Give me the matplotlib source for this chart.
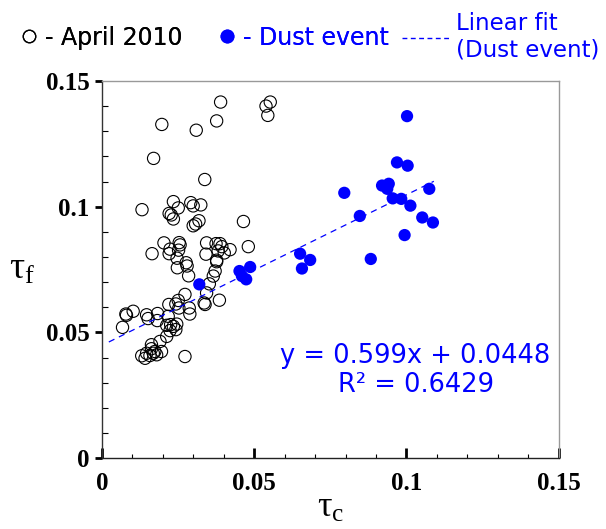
import matplotlib
matplotlib.use("Agg")
import matplotlib.pyplot as plt
import numpy as np
from matplotlib.lines import Line2D
from matplotlib.ticker import MultipleLocator, FixedLocator

# April 2010 (open circles)
april_tc = [
    0.0390, 0.0553, 0.0539, 0.0545, 0.0197, 0.0310, 0.0377, 0.0170, 0.0338,
    0.0132, 0.0235, 0.0251, 0.0221, 0.0228, 0.0235, 0.0292, 0.0300, 0.0300,
    0.0308, 0.0319, 0.0204, 0.0165, 0.0224, 0.0221, 0.0254, 0.0257, 0.0252,
    0.0247, 0.0248, 0.0277, 0.0280, 0.0325, 0.0465, 0.0344, 0.0375, 0.0388,
    0.0394, 0.0421, 0.0382, 0.0342, 0.0402, 0.0481, 0.0377, 0.0285, 0.0273,
    0.0251, 0.0243, 0.0220, 0.0287, 0.0289, 0.0253, 0.0103, 0.0079, 0.0081,
    0.0147, 0.0152, 0.0183, 0.0218, 0.0182, 0.0213, 0.0226, 0.0235, 0.0246,
    0.0243, 0.0224, 0.0213, 0.0068, 0.0163, 0.0191, 0.0174, 0.0163, 0.0169,
    0.0158, 0.0180, 0.0196, 0.0131, 0.0142, 0.0273, 0.0147, 0.0372, 0.0366,
    0.0353, 0.0344, 0.0336, 0.0339, 0.0386, 0.0377,
]
april_tf = [
    0.1416, 0.1416, 0.1400, 0.1363, 0.1327, 0.1304, 0.1341, 0.1192, 0.1108,
    0.0988, 0.1020, 0.0995, 0.0973, 0.0967, 0.0951, 0.1016, 0.1003, 0.0924,
    0.0931, 0.0944, 0.0856, 0.0813, 0.0831, 0.0813, 0.0857, 0.0848, 0.0827,
    0.0795, 0.0757, 0.0777, 0.0764, 0.1007, 0.0941, 0.0856, 0.0853, 0.0853,
    0.0841, 0.0829, 0.0824, 0.0811, 0.0816, 0.0841, 0.0781, 0.0725, 0.0651,
    0.0627, 0.0613, 0.0611, 0.0597, 0.0573, 0.0597, 0.0584, 0.0573, 0.0568,
    0.0570, 0.0555, 0.0575, 0.0564, 0.0547, 0.0528, 0.0531, 0.0524, 0.0533,
    0.0511, 0.0507, 0.0484, 0.0520, 0.0451, 0.0464, 0.0424, 0.0435, 0.0417,
    0.0408, 0.0411, 0.0424, 0.0407, 0.0397, 0.0404, 0.0417, 0.0744, 0.0724,
    0.0693, 0.0657, 0.0617, 0.0611, 0.0628, 0.0787,
]

# Dust event (filled circles)
dust_tc = [
    0.1002, 0.0969, 0.1004, 0.0796, 0.0920, 0.0942, 0.0937, 0.1075, 0.0955,
    0.0983, 0.1013, 0.1052, 0.1087, 0.0847, 0.0994, 0.0883, 0.0320, 0.0452,
    0.0460, 0.0474, 0.0487, 0.0684, 0.0657, 0.0651,
]
dust_tf = [
    0.1360, 0.1176, 0.1163, 0.1055, 0.1084, 0.1091, 0.1071, 0.1071, 0.1033,
    0.1031, 0.1004, 0.0957, 0.0937, 0.0963, 0.0887, 0.0792, 0.0691, 0.0744,
    0.0724, 0.0711, 0.0760, 0.0788, 0.0754, 0.0813,
]

slope, intercept = 0.599, 0.0448
fit_range = [0.0023, 0.1090]
r2 = 0.6429

blue = "#0000FF"

fig = plt.figure(figsize=(6.06, 5.29), dpi=100)
ax = fig.add_axes([0.168, 0.134, 0.754, 0.713])

ax.scatter(april_tc, april_tf, s=78, facecolors="none", edgecolors="black",
           linewidths=0.8, zorder=3)
ax.scatter(dust_tc, dust_tf, s=78, color=blue, edgecolors="none", zorder=4)

fx = np.array(fit_range)
ax.plot(fx, slope * fx + intercept, color=blue, lw=0.9, ls=(0, (5, 4)), zorder=5)

ax.text(0.103, 0.0348, f"y = {slope}x + {intercept}\nR² = {r2}",
        color=blue, fontsize=18.5, ha="center", va="center",
        multialignment="center", linespacing=1.15, family="DejaVu Sans")

ax.set_xlim(0, 0.15)
ax.set_ylim(0, 0.15)
ax.xaxis.set_major_locator(FixedLocator([0, 0.05, 0.1, 0.15]))
ax.yaxis.set_major_locator(FixedLocator([0, 0.05, 0.1, 0.15]))
ax.xaxis.set_minor_locator(MultipleLocator(0.01))
ax.yaxis.set_minor_locator(MultipleLocator(0.01))
ax.set_xticklabels(["0", "0.05", "0.1", "0.15"])
ax.set_yticklabels(["0", "0.05", "0.1", "0.15"])

tick_font = dict(family="Liberation Serif", weight="bold", size=18)
for lab in ax.get_xticklabels() + ax.get_yticklabels():
    lab.set_fontproperties(matplotlib.font_manager.FontProperties(**tick_font))

ax.tick_params(axis="x", which="major", direction="in", length=7, width=2, pad=10)
ax.tick_params(axis="x", which="minor", direction="in", length=3, width=0.8)
ax.tick_params(axis="y", which="major", direction="out", length=5, width=2, pad=4)
ax.tick_params(axis="y", which="minor", direction="in", length=4, width=0.8)

ax.spines["left"].set_color("#333333")
ax.spines["bottom"].set_color("#222222")
ax.spines["top"].set_color("#999999")
ax.spines["right"].set_color("#999999")
for sp in ax.spines.values():
    sp.set_linewidth(1.0)

ax.set_xlabel(r"$\mathregular{τ_c}$", family="Liberation Serif", fontsize=26, labelpad=-2)
ax.set_ylabel(r"$\mathregular{τ_f}$", family="Liberation Serif", fontsize=27,
              rotation=0, va="center", ha="center")
ax.yaxis.set_label_coords(-0.175, 0.5)

# legend: markers
h1 = Line2D([], [], ls="none", marker="o", markersize=9, markerfacecolor="none",
            markeredgecolor="black", markeredgewidth=0.9)
h2 = Line2D([], [], ls="none", marker="o", markersize=9, color=blue)
leg1 = fig.legend([h1, h2], ["- April 2010", "- Dust event"], ncol=2,
                  loc="center left", bbox_to_anchor=(0.032, 0.929),
                  frameon=False, prop=dict(family="DejaVu Sans", size=17),
                  handlelength=0.8, handletextpad=0.3, columnspacing=1.45,
                  borderpad=0, borderaxespad=0, labelcolor=["black", blue])
fig.add_artist(leg1)

h3 = Line2D([], [], color=blue, lw=1.0, ls=(0, (3.5, 2.5)))
fig.legend([h3], ["Linear fit\n(Dust event)"], loc="center left",
           bbox_to_anchor=(0.663, 0.93), frameon=False,
           prop=dict(family="DejaVu Sans", size=16.5), handlelength=2.2,
           handletextpad=0.15, borderpad=0, borderaxespad=0,
           labelcolor=[blue])

fig.savefig("out.png", dpi=100)
